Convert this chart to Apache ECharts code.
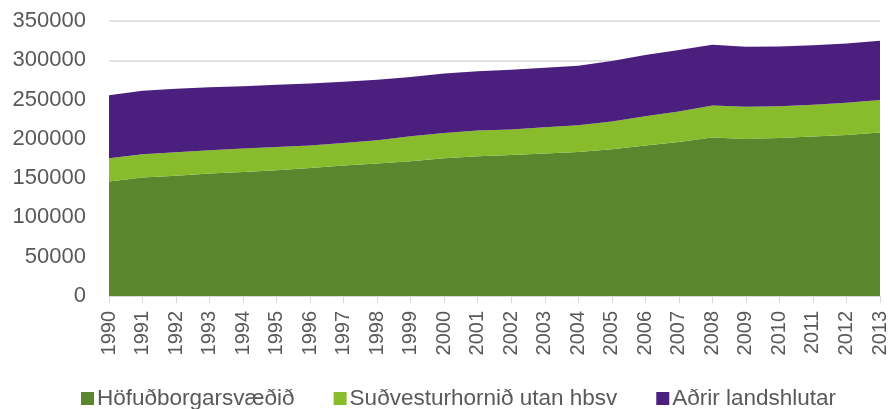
<!DOCTYPE html>
<html>
<head>
<meta charset="utf-8">
<script src="https://cdn.jsdelivr.net/npm/echarts@6/dist/echarts.min.js"></script>
<style>
html,body{margin:0;padding:0;background:#fff;}
#main{width:892px;height:409px;}
</style>
</head>
<body>
<div id="main"></div>
<script>
var years = ['1990','1991','1992','1993','1994','1995','1996','1997','1998','1999','2000','2001',
             '2002','2003','2004','2005','2006','2007','2008','2009','2010','2011','2012','2013'];
var hofudborg = [145600,150700,153200,155800,157900,160000,163000,166000,168500,171500,175300,177900,
                 179600,181300,183400,186800,191500,196100,201700,199900,201200,203000,205000,208100];
var sudvestur = [29700,29700,29800,29700,29800,29700,28500,28800,29800,31900,32300,32700,
                 32300,33500,34000,35300,37400,38700,40800,40900,40400,40300,40800,41200];
var adrir = [80300,80700,80700,80300,79400,79100,79000,77800,76900,75200,75700,75600,
             76000,75700,75600,76900,77700,78200,77300,76500,76100,75700,75700,75600];
var names = ['Höfuðborgarsvæðið','Suðvesturhornið utan hbsv','Aðrir landshlutar'];
var colors = ['#5a862d','#89bc2d','#4b1f7d'];

var myChart = echarts.init(document.getElementById('main'));
var font = 'Liberation Sans';
function mk(name, data, color){
    return {
        name: name, type: 'line', stack: 'total', data: data,
        symbol: 'none', lineStyle: {width: 0}, areaStyle: {color: color, opacity: 1},
        itemStyle: {color: color}
    };
}
var option = {
    animation: false,
    grid: {left: 109, right: 12, top: 21, bottom: 113},
    legend: {
        top: 382, left: 76, itemWidth: 13, itemHeight: 13, itemGap: 39,
        icon: 'rect',
        textStyle: {color: '#595959', fontSize: 22.5, fontFamily: font, padding: [0,0,0,-2]},
        data: names
    },
    xAxis: {
        type: 'category', data: years, boundaryGap: false,
        axisLine: {lineStyle: {color: '#d9d9d9'}},
        axisTick: {show: true, length: 7, lineStyle: {color: '#d9d9d9'}},
        axisLabel: {rotate: 90, color: '#595959', fontSize: 20, fontFamily: font, margin: 15, interval: 0}
    },
    yAxis: {
        type: 'value', min: 0, max: 350000, interval: 50000,
        axisLine: {show: false}, axisTick: {show: false},
        splitLine: {lineStyle: {color: '#d9d9d9', width: 1.5}},
        axisLabel: {color: '#595959', fontSize: 22, fontFamily: font, margin: 23,
                    formatter: function(v){ return String(v); }}
    },
    series: [
        mk(names[0], hofudborg, colors[0]),
        mk(names[1], sudvestur, colors[1]),
        mk(names[2], adrir, colors[2])
    ]
};
myChart.setOption(option);
</script>
</body>
</html>
